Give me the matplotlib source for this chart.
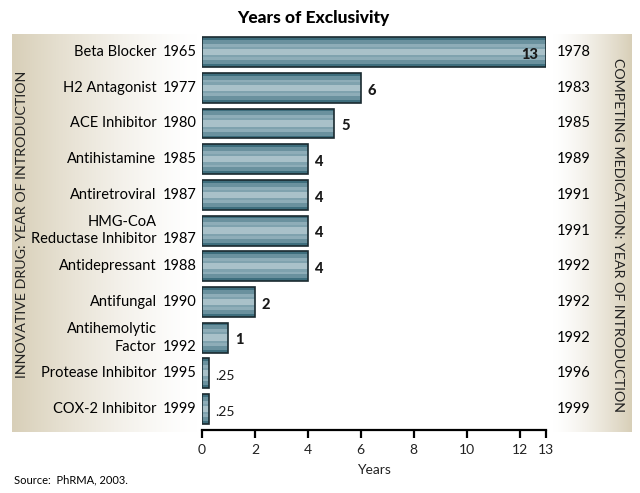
import numpy as np
import matplotlib
matplotlib.use('Agg')
import matplotlib.pyplot as plt
from matplotlib.colors import LinearSegmentedColormap

plt.rcParams['font.family'] = ['Lato', 'DejaVu Sans']

# data
drugs = ['Beta Blocker', 'H2 Antagonist', 'ACE Inhibitor', 'Antihistamine',
         'Antiretroviral', 'HMG-CoA\nReductase Inhibitor', 'Antidepressant',
         'Antifungal', 'Antihemolytic\nFactor', 'Protease Inhibitor', 'COX-2 Inhibitor']
intro_years = [1965, 1977, 1980, 1985, 1987, 1987, 1988, 1990, 1992, 1995, 1999]
competitor_years = [1978, 1983, 1985, 1989, 1991, 1991, 1992, 1992, 1992, 1996, 1999]
exclusivity = [13, 6, 5, 4, 4, 4, 4, 2, 1, 0.25, 0.25]
value_labels = ['13', '6', '5', '4', '4', '4', '4', '2', '1', '.25', '.25']

fig = plt.figure(figsize=(6.4, 4.93), dpi=100)

# gradient side panels
bg = fig.add_axes([0, 0, 1, 1], zorder=0)
bg.set_xlim(0, 640)
bg.set_ylim(493, 0)
bg.axis('off')
tan = LinearSegmentedColormap.from_list('tan', ['#ffffff', '#d8cfb8'])
grad = np.linspace(1, 0, 256).reshape(1, -1) ** 1.4
bg.imshow(grad, cmap=tan, vmin=0, vmax=1, extent=[12, 200, 432, 34], aspect='auto')
bg.imshow(grad[:, ::-1], cmap=tan, vmin=0, vmax=1, extent=[552, 632, 432, 34], aspect='auto')

ax = fig.add_axes([202 / 640, 63 / 493, 344 / 640, 395 / 493], zorder=1)
ax.patch.set_alpha(0)

y = np.arange(len(drugs))
layers = [(0.84, '#3e6e7d'), (0.68, '#6a919e'), (0.46, '#8eadb8'), (0.30, '#7fa2ae'), (0.18, '#a9c1c9')]
for h, c in layers:
    ax.barh(y, exclusivity, height=h, color=c, linewidth=0)
ax.barh(y, exclusivity, height=0.84, facecolor='none', edgecolor='#1a2a30', linewidth=1.2)

for i, (v, lab) in enumerate(zip(exclusivity, value_labels)):
    bold = lab != '.25'
    if v >= 13:
        ax.text(v - 0.3, i + 0.08, lab, ha='right', va='center', fontsize=10.5,
                fontweight='black', color='#1a1a1a')
    else:
        ax.text(v + 0.25, i + 0.08, lab, ha='left', va='center',
                fontsize=10.5 if bold else 10,
                fontweight='black' if bold else 'normal', color='#1a1a1a')

ax.set_ylim(10.59, -0.48)
ax.set_xlim(0, 13)
ax.set_xticks([0, 2, 4, 6, 8, 10, 12, 13])
ax.set_yticks([])
for s in ['top', 'right', 'left']:
    ax.spines[s].set_visible(False)
ax.spines['bottom'].set_linewidth(1.6)
ax.tick_params(axis='x', length=6, width=1.6, labelsize=10, pad=4, direction='out',
               labelcolor='#222222')
ax.set_xlabel('Years', fontsize=10, labelpad=6, color='#222222')

# left labels
for i, (d, yr) in enumerate(zip(drugs, intro_years)):
    if '\n' in d:
        top, bot = d.split('\n')
        ax.text(-1.72, i - 0.25, top, ha='right', va='center', fontsize=10.5, clip_on=False)
        ax.text(-1.72, i + 0.25, bot, ha='right', va='center', fontsize=10.5, clip_on=False)
        ax.text(-0.2, i + 0.25, str(yr), ha='right', va='center', fontsize=10.5, clip_on=False)
    else:
        ax.text(-1.72, i, d, ha='right', va='center', fontsize=10.5, clip_on=False)
        ax.text(-0.2, i, str(yr), ha='right', va='center', fontsize=10.5, clip_on=False)

for i, yr in enumerate(competitor_years):
    ax.text(13.4, i, str(yr), ha='left', va='center', fontsize=10.5, clip_on=False)

fig.text(22 / 640, 1 - 224 / 493, 'INNOVATIVE DRUG: YEAR OF INTRODUCTION', rotation=90,
         ha='center', va='center', fontsize=10.3, color='#222222', zorder=3)
fig.text(618 / 640, 1 - 235 / 493, 'COMPETING MEDICATION: YEAR OF INTRODUCTION', rotation=270,
         ha='center', va='center', fontsize=10.3, color='#222222', zorder=3)

fig.text(313 / 640, 1 - 18 / 493, 'Years of Exclusivity', ha='center', va='center',
         fontsize=12.5, fontweight='black')
fig.text(14 / 640, 1 - 480 / 493, 'Source:  PhRMA, 2003.', ha='left', va='center', fontsize=8)

fig.savefig('out.png', dpi=100)
